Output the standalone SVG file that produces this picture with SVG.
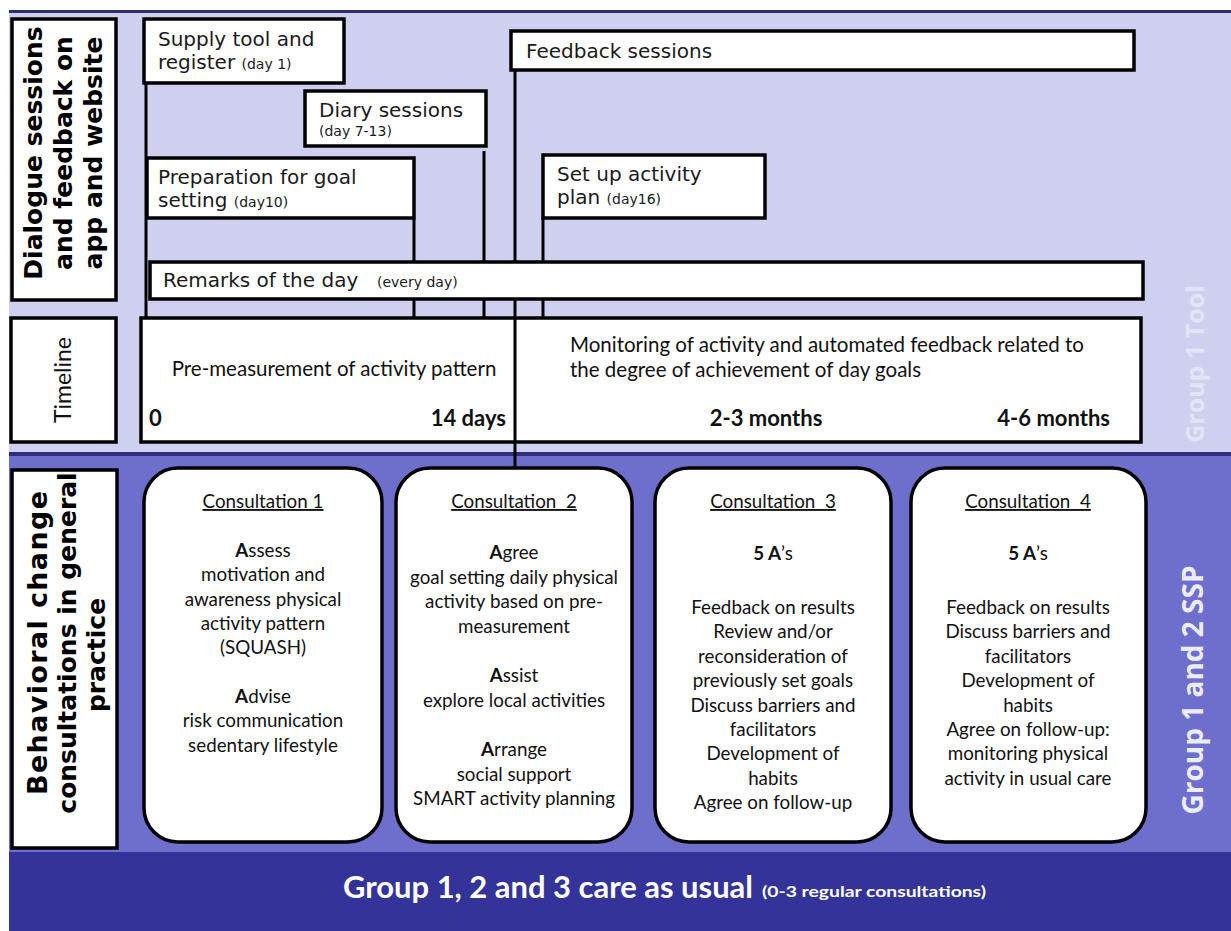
<svg xmlns="http://www.w3.org/2000/svg" width="1231" height="931" viewBox="0 0 1231 931">
<style>
.box{fill:#fff;stroke:#000;stroke-width:3.5}
.conn{stroke:#000;stroke-width:3;fill:none}
.v{font-family:"DejaVu Sans",Verdana,sans-serif;font-size:20px;fill:#1a1a1a}
.vs{font-size:14px}
.c{font-family:Lato,"Liberation Sans",sans-serif;font-size:18.8px;fill:#111;text-anchor:middle}
.t{font-family:Lato,"Liberation Sans",sans-serif;font-size:20.5px;fill:#111}
.tb{font-family:Lato,"Liberation Sans",sans-serif;font-size:22px;font-weight:bold;fill:#111}
.b{font-weight:bold}
.u{text-decoration:underline}
.lbl{font-family:"DejaVu Sans",sans-serif;font-weight:bold;font-size:25px;fill:#000;text-anchor:middle}
.grp{font-family:"Open Sans",sans-serif;font-weight:bold;text-anchor:middle}
</style>
<rect width="1231" height="931" fill="#fff"/>
<g id="bands">
<rect x="9" y="10" width="1222" height="443" fill="#cfd0f0"/>
<rect x="9" y="10" width="1222" height="3" fill="#2d2d6e"/>
<rect x="9" y="452" width="1222" height="4" fill="#2e2e7a"/>
<rect x="9" y="456" width="1222" height="397" fill="#6e6fcc"/>
<rect x="9" y="852" width="1222" height="79" fill="#333399"/>
</g>
<g id="connectors" class="conn">
<line x1="146" y1="84" x2="146" y2="318"/>
<line x1="414" y1="219" x2="414" y2="318"/>
<line x1="484" y1="151" x2="484" y2="318"/>
<line x1="515" y1="71" x2="515" y2="468"/>
<line x1="543" y1="218" x2="543" y2="318"/>
</g>
<g id="label-dialogue">
<rect class="box" x="12" y="19" width="104" height="281"/>
<g transform="translate(64,153) rotate(-90)">
<text class="lbl" x="0" y="-22">Dialogue sessions</text>
<text class="lbl" x="0" y="8">and feedback on</text>
<text class="lbl" x="0" y="38">app and website</text>
</g>
</g>
<g id="node-supply">
<rect class="box" x="144" y="19" width="200" height="64"/>
<text class="v" x="158" y="46">Supply tool and</text>
<text class="v" x="158" y="69">register <tspan class="vs">(day 1)</tspan></text>
</g>
<g id="node-diary">
<rect class="box" x="305" y="91" width="181" height="55"/>
<text class="v" x="319" y="117">Diary sessions</text>
<text class="v vs" x="319" y="136">(day 7-13)</text>
</g>
<g id="node-prep">
<rect class="box" x="147" y="158" width="267" height="60"/>
<text class="v" x="158" y="184">Preparation for goal</text>
<text class="v" x="158" y="207">setting <tspan class="vs">(day10)</tspan></text>
</g>
<g id="node-feedback">
<rect class="box" x="511" y="31" width="623" height="39"/>
<text class="v" x="526" y="58">Feedback sessions</text>
</g>
<g id="node-setup">
<rect class="box" x="543" y="155" width="222" height="63"/>
<text class="v" x="557" y="181">Set up activity</text>
<text class="v" x="557" y="204">plan <tspan class="vs">(day16)</tspan></text>
</g>
<g id="node-remarks">
<rect class="box" x="150" y="262" width="993" height="37"/>
<text class="v" x="163" y="287">Remarks of the day</text>
<text class="v vs" x="377" y="287">(every day)</text>
</g>
<g id="label-group1tool">
<text class="grp" transform="translate(1204,364) rotate(-90)" font-size="25" fill="#e4e4f6">Group 1 Tool</text>
</g>
<g id="label-timeline">
<rect class="box" x="11" y="318" width="105" height="124"/>
<text transform="translate(63,380) rotate(-90)" text-anchor="middle" y="8" style="font-family:Lato,'Liberation Sans',sans-serif;font-size:23px;fill:#111">Timeline</text>
</g>
<g id="node-timeline">
<rect class="box" x="141" y="318" width="1000" height="124"/>
<line class="conn" x1="515" y1="318" x2="515" y2="442"/>
<text class="t" x="334" y="376" text-anchor="middle">Pre-measurement  of activity pattern</text>
<text class="t" x="570" y="352">Monitoring  of activity and automated feedback related to</text>
<text class="t" x="570" y="377">the degree of achievement of day goals</text>
<text class="tb" x="149" y="426">0</text>
<text class="tb" x="506" y="426" text-anchor="end">14 days</text>
<text class="tb" x="766" y="426" text-anchor="middle">2-3 months</text>
<text class="tb" x="1110" y="426" text-anchor="end">4-6 months</text>
</g>
<g id="label-behavioral">
<rect class="box" x="12" y="470" width="105" height="378"/>
<g transform="translate(64,643) rotate(-90)">
<text class="lbl" x="0" y="-17" style="font-size:27px" textLength="304" lengthAdjust="spacing">Behavioral change</text>
<text class="lbl" x="0" y="12">consultations in general</text>
<text class="lbl" x="-12" y="41">practice</text>
</g>
</g>
<g id="node-consult1">
<rect class="box" x="144" y="468" width="238" height="374" rx="34"/>
<text class="c u" x="263" y="508">Consultation 1</text>
<text class="c" x="263" y="557"><tspan class="b">A</tspan>ssess</text>
<text class="c" x="263" y="581">motivation and</text>
<text class="c" x="263" y="606">awareness physical</text>
<text class="c" x="263" y="630">activity pattern</text>
<text class="c" x="263" y="654">(SQUASH)</text>
<text class="c" x="263" y="703"><tspan class="b">A</tspan>dvise</text>
<text class="c" x="263" y="727">risk communication</text>
<text class="c" x="263" y="752">sedentary lifestyle</text>
</g>
<g id="node-consult2">
<rect class="box" x="396" y="468" width="236" height="374" rx="34"/>
<text class="c u" x="514" y="508">Consultation&#160; 2</text>
<text class="c" x="514" y="559"><tspan class="b">A</tspan>gree</text>
<text class="c" x="514" y="584">goal setting daily physical</text>
<text class="c" x="514" y="608">activity based on pre-</text>
<text class="c" x="514" y="633">measurement</text>
<text class="c" x="514" y="682"><tspan class="b">A</tspan>ssist</text>
<text class="c" x="514" y="707">explore local activities</text>
<text class="c" x="514" y="756"><tspan class="b">A</tspan>rrange</text>
<text class="c" x="514" y="781">social support</text>
<text class="c" x="514" y="805">SMART activity planning</text>
</g>
<g id="node-consult3">
<rect class="box" x="655" y="468" width="236" height="374" rx="34"/>
<text class="c u" x="773" y="508">Consultation&#160; 3</text>
<text class="c" x="773" y="560"><tspan class="b">5 A</tspan>’s</text>
<text class="c" x="773" y="614">Feedback on results</text>
<text class="c" x="773" y="638">Review and/or</text>
<text class="c" x="773" y="663">reconsideration of</text>
<text class="c" x="773" y="687">previously set goals</text>
<text class="c" x="773" y="712">Discuss barriers and</text>
<text class="c" x="773" y="736">facilitators</text>
<text class="c" x="773" y="760">Development of</text>
<text class="c" x="773" y="785">habits</text>
<text class="c" x="773" y="809">Agree on follow-up</text>
</g>
<g id="node-consult4">
<rect class="box" x="911" y="468" width="235" height="374" rx="34"/>
<text class="c u" x="1028" y="508">Consultation&#160; 4</text>
<text class="c" x="1028" y="560"><tspan class="b">5 A</tspan>’s</text>
<text class="c" x="1028" y="614">Feedback on results</text>
<text class="c" x="1028" y="638">Discuss barriers and</text>
<text class="c" x="1028" y="663">facilitators</text>
<text class="c" x="1028" y="687">Development of</text>
<text class="c" x="1028" y="712">habits</text>
<text class="c" x="1028" y="736">Agree on follow-up:</text>
<text class="c" x="1028" y="760">monitoring physical</text>
<text class="c" x="1028" y="785">activity in usual care</text>
</g>
<g id="label-group12ssp">
<text class="grp" transform="translate(1203,690) rotate(-90)" font-size="28" fill="#ececfa">Group 1 and 2 SSP</text>
</g>
<g id="label-careasusual">
<text x="343" y="898" font-family="Lato,'Liberation Sans',sans-serif" font-weight="bold" font-size="31" fill="#fff" textLength="410" lengthAdjust="spacingAndGlyphs">Group 1, 2 and 3 care as usual</text>
<text x="762" y="897" font-family="Lato,'Liberation Sans',sans-serif" font-weight="bold" font-size="16" fill="#fff" textLength="224" lengthAdjust="spacingAndGlyphs">(0-3 regular consultations)</text>
</g>
</svg>
